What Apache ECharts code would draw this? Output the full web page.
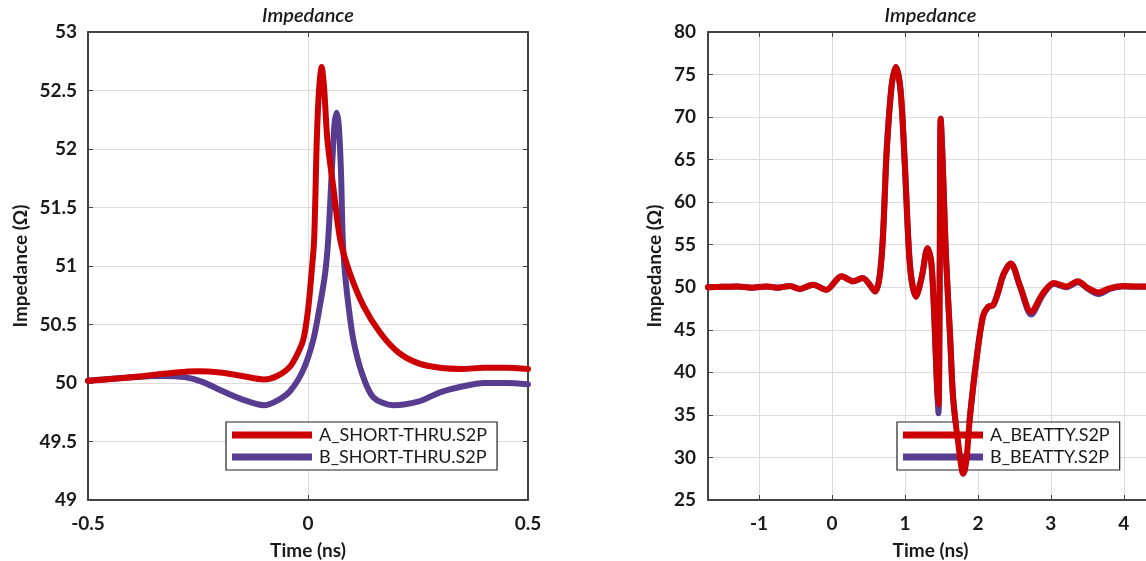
<!DOCTYPE html>
<html>
<head>
<meta charset="utf-8">
<script src="https://cdn.jsdelivr.net/npm/echarts@6/dist/echarts.min.js"></script>
<style>
  html, body { margin: 0; padding: 0; background: #ffffff; }
  #chart { width: 1146px; height: 561px; }
</style>
</head>
<body>
<div id="chart"></div>
<script>
// ---- Short-thru fixture (time in ns, impedance in ohms) ----
const shortTimeA = [-0.5, -0.4, -0.3, -0.25, -0.2, -0.15, -0.1, -0.07, -0.041, -0.02, -0.01, 0.0, 0.008, 0.014, 0.02, 0.025, 0.031, 0.037, 0.044, 0.058, 0.073, 0.095, 0.126, 0.164, 0.206, 0.25, 0.3, 0.35, 0.4, 0.45, 0.5];
const shortZA    = [50.02, 50.05, 50.09, 50.10, 50.09, 50.06, 50.03, 50.06, 50.14, 50.28, 50.38, 50.62, 50.94, 51.23, 52.08, 52.5, 52.7, 52.5, 52.08, 51.66, 51.23, 50.94, 50.66, 50.43, 50.26, 50.17, 50.13, 50.12, 50.13, 50.13, 50.12];

const shortTimeB = [-0.5, -0.4, -0.33, -0.28, -0.24, -0.2, -0.15, -0.1, -0.07, -0.041, -0.011, 0.012, 0.027, 0.039, 0.046, 0.054, 0.06, 0.065, 0.07, 0.075, 0.079, 0.084, 0.092, 0.103, 0.122, 0.148, 0.194, 0.25, 0.3, 0.35, 0.4, 0.45, 0.5];
const shortZB    = [50.02, 50.05, 50.06, 50.05, 50.01, 49.94, 49.86, 49.81, 49.85, 49.93, 50.11, 50.37, 50.66, 50.94, 51.23, 51.8, 52.2, 52.31, 52.2, 51.8, 51.23, 50.94, 50.66, 50.37, 50.09, 49.88, 49.81, 49.84, 49.92, 49.97, 50.0, 50.0, 49.99];

// ---- Beatty standard (time in ns, impedance in ohms) ----
const beattyTimeA = [-1.7, -1.5, -1.3, -1.1, -0.9, -0.75, -0.58, -0.44, -0.26, -0.08, 0.13, 0.29, 0.42, 0.59, 0.68, 0.75, 0.82, 0.877, 0.94, 1.0, 1.07, 1.15, 1.23, 1.31, 1.36, 1.40, 1.44, 1.46, 1.477, 1.49, 1.52, 1.56, 1.62, 1.66, 1.73, 1.80, 1.84, 1.89, 1.98, 2.07, 2.14, 2.21, 2.28, 2.35, 2.45, 2.58, 2.73, 2.89, 3.04, 3.21, 3.37, 3.51, 3.65, 3.81, 3.99, 4.2, 4.4];
const beattyZA    = [50.0, 50.05, 50.1, 49.95, 50.1, 49.95, 50.15, 49.8, 50.3, 49.7, 51.3, 50.7, 51.1, 49.5, 53.6, 66.1, 73.9, 75.9, 73.1, 64.1, 52.4, 48.9, 51.2, 54.6, 53.0, 47.0, 38.5, 36.2, 53.0, 69.8, 64.0, 54.0, 44.0, 37.0, 31.7, 28.1, 29.5, 34.7, 41.5, 46.6, 47.7, 47.9, 49.5, 51.5, 52.8, 50.1, 47.1, 49.3, 50.5, 50.1, 50.7, 49.9, 49.4, 49.9, 50.15, 50.1, 50.1];

const beattyTimeB = [-1.7, -1.5, -1.3, -1.1, -0.9, -0.75, -0.58, -0.44, -0.26, -0.08, 0.13, 0.29, 0.42, 0.59, 0.68, 0.75, 0.82, 0.877, 0.94, 1.0, 1.07, 1.15, 1.23, 1.31, 1.36, 1.40, 1.44, 1.46, 1.477, 1.49, 1.52, 1.56, 1.62, 1.66, 1.73, 1.80, 1.84, 1.89, 1.98, 2.07, 2.14, 2.21, 2.28, 2.35, 2.45, 2.58, 2.73, 2.89, 3.04, 3.21, 3.37, 3.51, 3.65, 3.81, 3.99, 4.2, 4.4];
const beattyZB    = [50.0, 50.05, 50.1, 49.95, 50.1, 49.95, 50.15, 49.8, 50.3, 49.7, 51.3, 50.7, 51.1, 49.5, 53.6, 66.1, 73.9, 75.9, 73.1, 64.1, 52.4, 48.9, 51.2, 54.6, 53.0, 47.0, 38.0, 35.2, 53.0, 69.8, 64.0, 54.0, 44.0, 37.0, 31.7, 28.1, 29.5, 34.7, 41.5, 46.6, 47.7, 47.9, 49.5, 51.5, 52.8, 50.0, 46.8, 49.1, 50.4, 50.0, 50.6, 49.8, 49.2, 49.8, 50.1, 50.05, 50.05];

const seriesNames = ['A_SHORT-THRU.S2P', 'B_SHORT-THRU.S2P', 'A_BEATTY.S2P', 'B_BEATTY.S2P'];

const RED = '#cc0000';
const PURPLE = '#573c90';
const FONT = 'Lato, "Open Sans", "DejaVu Sans", sans-serif';
const AXIS_COLOR = '#444444';
const GRID_COLOR = '#dcdcdc';

const zip = (xs, ys) => xs.map((x, i) => [x, ys[i]]);

const tickStyle = { show: true, inside: true, length: 5, lineStyle: { color: AXIS_COLOR, width: 1 } };
const lineStyleAxis = { show: true, onZero: false, lineStyle: { color: AXIS_COLOR, width: 2 } };
const labelStyle = { color: '#1a1a1a', fontFamily: FONT, fontSize: 19, fontWeight: 'bold' };

function bottomAxis(gridIndex, range, extra) {
  return Object.assign({
    type: 'value', gridIndex, position: 'bottom',
    min: range[0], max: range[1],
    name: 'Time (ns)', nameLocation: 'middle', nameGap: 41,
    nameTextStyle: { color: '#1a1a1a', fontFamily: FONT, fontSize: 19, fontWeight: 'bold' },
    axisLine: lineStyleAxis, axisTick: tickStyle,
    axisLabel: Object.assign({ margin: 14 }, labelStyle),
    splitLine: { show: true, lineStyle: { color: GRID_COLOR, width: 1 } }
  }, extra);
}
function topAxis(gridIndex, range, extra) {
  return Object.assign({
    type: 'value', gridIndex, position: 'top',
    min: range[0], max: range[1],
    name: 'Impedance', nameLocation: 'middle', nameGap: 6,
    nameTextStyle: { color: '#1a1a1a', fontFamily: FONT, fontSize: 20, fontStyle: 'italic', fontWeight: 600 },
    axisLine: lineStyleAxis, axisTick: tickStyle,
    axisLabel: { show: false }, splitLine: { show: false }
  }, extra);
}
function leftAxis(gridIndex, range, interval, nameGap, margin) {
  return {
    type: 'value', gridIndex, position: 'left',
    min: range[0], max: range[1], interval,
    name: 'Impedance (Ω)', nameLocation: 'middle', nameGap,
    nameTextStyle: { color: '#1a1a1a', fontFamily: FONT, fontSize: 19, fontWeight: 'bold' },
    axisLine: lineStyleAxis, axisTick: tickStyle,
    axisLabel: Object.assign({ margin }, labelStyle),
    splitLine: { show: true, lineStyle: { color: GRID_COLOR, width: 1 } }
  };
}
function rightAxis(gridIndex, range, interval) {
  return {
    type: 'value', gridIndex, position: 'right',
    min: range[0], max: range[1], interval,
    axisLine: lineStyleAxis, axisTick: tickStyle,
    axisLabel: { show: false }, splitLine: { show: false }
  };
}

function lineSeries(name, data, color, xi, yi, z) {
  return {
    name, type: 'line', data, xAxisIndex: xi, yAxisIndex: yi,
    showSymbol: false, symbol: 'none', smooth: 0.3, z,
    lineStyle: { color, width: 6, cap: 'round', join: 'round' },
    itemStyle: { color },
    emphasis: { disabled: true }
  };
}

function legend(names, left) {
  return {
    data: names, orient: 'vertical', left, top: 422,
    icon: 'rect', itemWidth: 80, itemHeight: 7, itemGap: 4,
    padding: [4, 10, 4, 6],
    backgroundColor: '#ffffff', borderColor: '#222222', borderWidth: 1.2, borderRadius: 0,
    textStyle: { color: '#1a1a1a', fontFamily: FONT, fontSize: 18, padding: [0, 0, 0, 2] },
    selectedMode: false
  };
}

const chart = echarts.init(document.getElementById('chart'), null, { renderer: 'canvas' });

chart.setOption({
  animation: false,
  backgroundColor: '#ffffff',
  grid: [
    { left: 88, top: 32, width: 440, height: 468, outerBoundsMode: 'none' },
    { left: 708, top: 32, width: 445, height: 468, outerBoundsMode: 'none' }
  ],
  xAxis: [
    bottomAxis(0, [-0.5, 0.5], { interval: 0.5 }),
    topAxis(0, [-0.5, 0.5], { interval: 0.5 }),
    bottomAxis(1, [-1.7, 4.4], { splitNumber: 6, axisLabel: Object.assign({ margin: 14, showMinLabel: false, showMaxLabel: false }, labelStyle) }),
    topAxis(1, [-1.7, 4.4], { splitNumber: 6 })
  ],
  yAxis: [
    leftAxis(0, [49, 53], 0.5, 58, 11),
    rightAxis(0, [49, 53], 0.5),
    leftAxis(1, [25, 80], 5, 44, 12),
    rightAxis(1, [25, 80], 5)
  ],
  legend: [
    legend([seriesNames[0], seriesNames[1]], 226),
    legend([seriesNames[2], seriesNames[3]], 897)
  ],
  series: [
    lineSeries(seriesNames[0], zip(shortTimeA, shortZA), RED, 0, 0, 4),
    lineSeries(seriesNames[1], zip(shortTimeB, shortZB), PURPLE, 0, 0, 3),
    lineSeries(seriesNames[2], zip(beattyTimeA, beattyZA), RED, 2, 2, 4),
    lineSeries(seriesNames[3], zip(beattyTimeB, beattyZB), PURPLE, 2, 2, 3)
  ]
});
</script>
</body>
</html>
